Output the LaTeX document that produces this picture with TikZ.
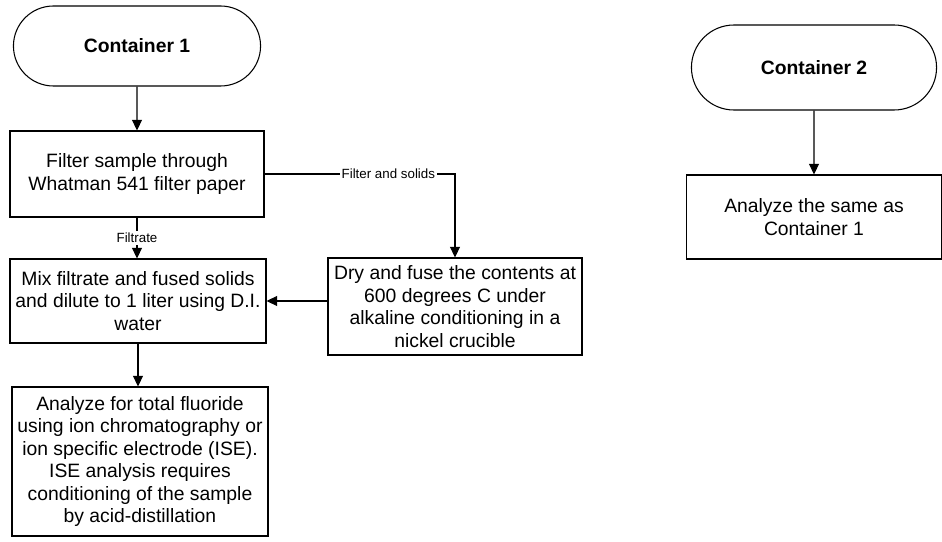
\documentclass[tikz,border=0pt]{standalone}
\usepackage{fontspec}
\setmainfont{Liberation Sans}
\usepackage{tikz}
\usetikzlibrary{arrows.meta,positioning,shapes.misc}

\tikzset{
    box/.style={draw, line width=0.8pt, align=center, inner sep=2pt,
        font=\fontsize{14.5}{16.9}\selectfont},
    startbox/.style={draw, line width=0.8pt, rounded rectangle, align=center,
        font=\fontsize{14.5}{17}\selectfont\bfseries},
    lbl/.style={fill=white, inner sep=1.5pt, font=\fontsize{10}{12}\selectfont},
    arr/.style={line width=0.8pt, -{Triangle[length=8pt,width=7.5pt]}}
}

\begin{document}
\begin{tikzpicture}[x=0.75pt, y=-0.75pt]
    \useasboundingbox (0,0) rectangle (942,542);
    % left column
    \node[startbox, minimum width=192pt, minimum height=60pt] (cont1) at (137,46) {Container 1};
    \node[box, minimum width=190.5pt, minimum height=64.5pt] (filter) at (137,174)
        {Filter sample through\\Whatman 541 filter paper};
    \node[box, minimum width=192pt, minimum height=63pt] (mix) at (138,301)
        {Mix filtrate and fused solids\\and dilute to 1 liter using D.I.\\water};
    \node[box, minimum width=192pt, minimum height=111.75pt] (analyze) at (140,461.5)
        {Analyze for total fluoride\\using ion chromatography or\\ion specific electrode (ISE).\\ISE analysis requires\\conditioning of the sample\\by acid-distillation};
    \node[box, minimum width=190.5pt, minimum height=72.75pt] (dry) at (455,306.5)
        {Dry and fuse the contents at\\600 degrees C under\\alkaline conditioning in a\\nickel crucible};
    % right column
    \node[startbox, minimum width=190.5pt, minimum height=63.75pt] (cont2) at (814,67.5) {Container 2};
    \node[box, minimum width=191pt, minimum height=63pt] (same) at (814,217)
        {Analyze the same as\\Container 1};

    \draw[arr] (cont1) -- (filter);
    \draw[arr] (filter) -- node[lbl] {Filtrate} (filter.south |- mix.north);
    \draw[arr] (filter.east) -| node[lbl, pos=0.325] {Filter and solids} (dry.north);
    \draw[arr] (dry.west |- mix.east) -- (mix.east);
    \draw[arr] (mix) -- (mix.south |- analyze.north);
    \draw[arr] (cont2) -- (same);
\end{tikzpicture}
\end{document}
